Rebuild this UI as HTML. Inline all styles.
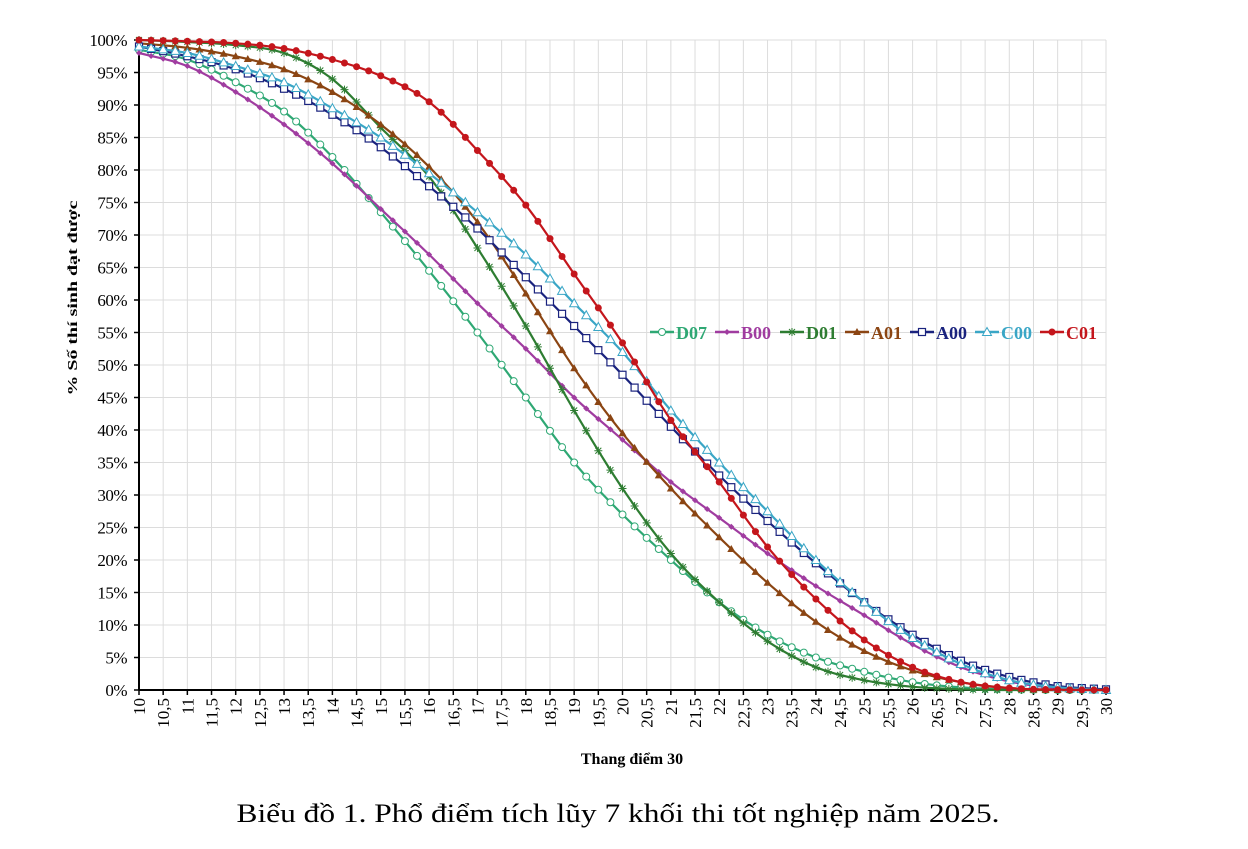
<!DOCTYPE html>
<html><head><meta charset="utf-8"><style>
body{margin:0;background:#fff;width:1248px;height:849px;overflow:hidden}
svg{position:absolute;left:0;top:0}
</style></head><body>
<svg id="s" width="1248" height="849" xmlns="http://www.w3.org/2000/svg" font-family="Liberation Serif, serif"></svg>
<script>
const S=document.getElementById('s');
const X0=139,X1=1106,Y0=690,Y1=40;
const xp=v=>X0+(v-10)*(X1-X0)/20, yp=p=>Y0-p*(Y0-Y1)/100;
let h='';
for(let i=0;i<=40;i++){const x=X0+i*(X1-X0)/40;h+=`<line x1="${x}" y1="${Y1}" x2="${x}" y2="${Y0}" stroke="#dcdcdc" stroke-width="1"/>`;}
for(let i=0;i<=20;i++){const y=Y0-i*(Y0-Y1)/20;h+=`<line x1="${X0}" y1="${y}" x2="${X1}" y2="${y}" stroke="#dcdcdc" stroke-width="1"/>`;
h+=`<text x="127" y="${y+6}" font-size="17" text-anchor="end" letter-spacing="-0.5">${i*5}%</text><line x1="${X0-5}" y1="${y}" x2="${X0}" y2="${y}" stroke="#000" stroke-width="1.5"/>`;}
for(let i=0;i<=40;i++){const x=X0+i*(X1-X0)/40;const v=(10+i*0.5).toString().replace('.',',');
h+=`<line x1="${x}" y1="${Y0}" x2="${x}" y2="${Y0+5}" stroke="#000" stroke-width="1.5"/>`;
h+=`<text transform="translate(${x+6},${Y0+8}) rotate(-90)" font-size="17" text-anchor="end">${v}</text>`;}
h+=`<line x1="${X0}" y1="${Y1}" x2="${X0}" y2="${Y0}" stroke="#000" stroke-width="2"/><line x1="${X0}" y1="${Y0}" x2="${X1}" y2="${Y0}" stroke="#000" stroke-width="2"/>`;
const xs=[10,11,12,13,14,15,16,17,18,19,20,21,22,23,24,25,26,27,28,29,30];
const D={
D07:[98.5,97,93.5,89,82,73.5,64.5,55,45,35,27,20,13.5,8.5,5,2.8,1.2,0.4,0.1,0,0],
B00:[98,96,92,87,81,74,67,59.5,52.5,45,38.5,32,26.5,21,16,11.5,7,3.5,1.3,0.3,0],
D01:[100,99.7,99.2,98,94,86.5,79,68,56,43,31,21,13.5,7.5,3.5,1.5,0.5,0.1,0,0,0],
A01:[99.5,98.8,97.5,95.5,92,87,80.5,72,61,49.5,39.5,31,23.5,16.5,10.5,6,3,1.2,0.3,0,0],
A00:[99,97.5,95.5,92.5,88.5,83.5,77.5,71,63.5,56,48.5,40.5,33,26,19.5,13.5,8.5,4.5,2,0.6,0.1],
C00:[99,98,96,93.5,89.5,85,79.5,73.5,67,59.5,52,43,35,27.5,20,13.5,8,4,1.5,0.4,0],
C01:[100,99.8,99.5,98.7,97,94.5,90.5,83,74.6,64,53.4,41.5,32,22,14,7.7,3.5,1.2,0.3,0.05,0]};
const C={D07:'#2fa874',B00:'#a03ca0',D01:'#2e7d32',A01:'#8b4513',A00:'#1a237e',C00:'#3aa6c6',C01:'#c4161c'};
function interp(ys,v){const n=xs.length;const m=[];const d=[];for(let i=0;i<n-1;i++)d.push(ys[i+1]-ys[i]);
for(let i=0;i<n;i++){if(i==0)m.push(d[0]);else if(i==n-1)m.push(d[n-2]);else m.push(d[i-1]*d[i]<=0?0:(d[i-1]+d[i])/2);}
let i=Math.min(Math.floor(v-10),n-2);const t=v-10-i;const t2=t*t,t3=t2*t;
return (2*t3-3*t2+1)*ys[i]+(t3-2*t2+t)*m[i]+(-2*t3+3*t2)*ys[i+1]+(t3-t2)*m[i+1];}
function mk(k,x,y,c){
if(k=='D07')return `<circle cx="${x}" cy="${y}" r="3.5" fill="#fff" stroke="${c}" stroke-width="1"/>`;
if(k=='B00')return `<path d="M${x-3},${y}L${x},${y-3}L${x+3},${y}L${x},${y+3}Z" fill="${c}"/>`;
if(k=='D01')return `<path d="M${x-4},${y}H${x+4}M${x},${y-4}V${y+4}M${x-3},${y-3}L${x+3},${y+3}M${x-3},${y+3}L${x+3},${y-3}" stroke="${c}" stroke-width="1"/>`;
if(k=='A01')return `<path d="M${x-4},${y+3}L${x},${y-4}L${x+4},${y+3}Z" fill="${c}"/>`;
if(k=='A00')return `<rect x="${x-3.5}" y="${y-3.5}" width="7" height="7" fill="#fff" stroke="${c}" stroke-width="1.2"/>`;
if(k=='C00')return `<path d="M${x-4.5},${y+3.5}L${x},${y-4.5}L${x+4.5},${y+3.5}Z" fill="#fff" stroke="${c}" stroke-width="1"/>`;
return `<circle cx="${x}" cy="${y}" r="3.5" fill="${c}"/>`;}
for(const k in D){const c=C[k];let p='';const ms=[];
for(let j=0;j<=80;j++){const v=10+j*0.25;let y=Math.max(0,Math.min(100,interp(D[k],v)));p+=(j?'L':'M')+xp(v).toFixed(1)+','+yp(y).toFixed(1);ms.push(mk(k,xp(v),yp(y),c));}
h+=`<path d="${p}" fill="none" stroke="${c}" stroke-width="2.2"/>`+ms.join('');}
let lx=650;const ly=332;
for(const k in D){const c=C[k];h+=`<line x1="${lx}" y1="${ly}" x2="${lx+24}" y2="${ly}" stroke="${c}" stroke-width="2.5"/>`+mk(k,lx+12,ly,c);
h+=`<text x="${lx+26}" y="${ly+7}" font-size="18" font-weight="bold" fill="${c}">${k}</text>`;lx+=65;}
h+=`<text transform="translate(77,298) rotate(-90)" font-size="14" font-weight="bold" text-anchor="middle" textLength="195" lengthAdjust="spacingAndGlyphs">% Số thí sinh đạt được</text>`;
h+=`<text x="632" y="764" font-size="16" font-weight="bold" text-anchor="middle">Thang điểm 30</text>`;
h+=`<text x="618" y="822" font-size="26" text-anchor="middle" textLength="763" lengthAdjust="spacingAndGlyphs">Biểu đồ 1. Phổ điểm tích lũy 7 khối thi tốt nghiệp năm 2025.</text>`;
S.innerHTML=h;
</script>
</body></html>
